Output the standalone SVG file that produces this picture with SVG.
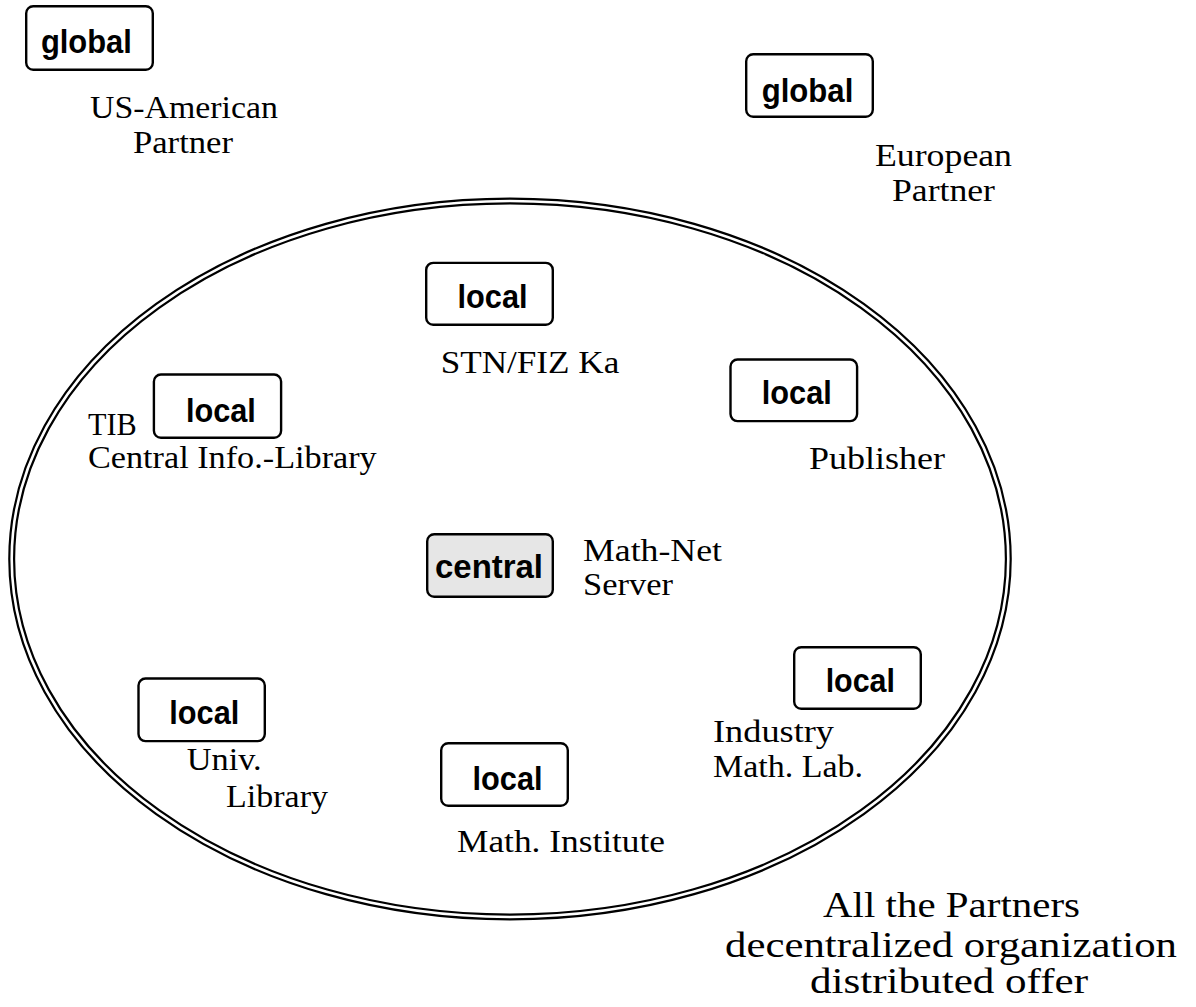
<svg xmlns="http://www.w3.org/2000/svg" width="1196" height="1007" viewBox="0 0 1196 1007">
  <style>
    .box { fill: #ffffff; stroke: #000000; stroke-width: 2.4; }
    .box.hub { fill: #e6e6e6; }
    .tag { font-family: "Liberation Sans", Arial, Helvetica, sans-serif; font-weight: bold; font-size: 33px; text-anchor: middle; fill: #000; }
    .lbl { font-family: "Liberation Serif", "Times New Roman", serif; font-size: 31px; fill: #000; }
    .big { font-size: 35px; }
    .ring { fill: none; stroke: #000000; stroke-width: 7; }
    .ring-gap { fill: none; stroke: #ffffff; stroke-width: 2.6; }
  </style>

  <rect x="0" y="0" width="1196" height="1007" fill="#ffffff"/>

  <!-- double-lined boundary of the national network -->
  <g id="boundary">
    <ellipse class="ring" cx="510" cy="559" rx="498.3" ry="358"/>
    <ellipse class="ring-gap" cx="510" cy="559" rx="498.3" ry="358"/>
  </g>

  <g id="connectors"></g>

  <g id="us-partner">
    <rect class="box" x="26.2" y="6.2" width="126.6" height="63.6" rx="7"/>
    <text class="tag" x="86.4" y="53.3" textLength="91" lengthAdjust="spacingAndGlyphs">global</text>
    <text class="lbl" x="90" y="118" textLength="188" lengthAdjust="spacingAndGlyphs">US-American</text>
    <text class="lbl" x="133" y="153" textLength="100" lengthAdjust="spacingAndGlyphs">Partner</text>
  </g>

  <g id="european-partner">
    <rect class="box" x="746.2" y="54.2" width="126.6" height="62.6" rx="7"/>
    <text class="tag" x="807.5" y="101.7" textLength="91.6" lengthAdjust="spacingAndGlyphs">global</text>
    <text class="lbl" x="875" y="166" textLength="137" lengthAdjust="spacingAndGlyphs">European</text>
    <text class="lbl" x="892" y="201" textLength="103" lengthAdjust="spacingAndGlyphs">Partner</text>
  </g>

  <g id="stn-fiz">
    <rect class="box" x="426.2" y="262.9" width="126.6" height="61.9" rx="7"/>
    <text class="tag" x="492.5" y="308.3" textLength="70" lengthAdjust="spacingAndGlyphs">local</text>
    <text class="lbl" x="440.7" y="373.3" textLength="178.6" lengthAdjust="spacingAndGlyphs">STN/FIZ Ka</text>
  </g>

  <g id="publisher">
    <rect class="box" x="730.5" y="359.5" width="126.6" height="61.6" rx="7"/>
    <text class="tag" x="796.8" y="404" textLength="70" lengthAdjust="spacingAndGlyphs">local</text>
    <text class="lbl" x="809" y="469" textLength="136" lengthAdjust="spacingAndGlyphs">Publisher</text>
  </g>

  <g id="tib">
    <rect class="box" x="153.9" y="374.5" width="127.2" height="63.3" rx="7"/>
    <text class="tag" x="220.9" y="421.7" textLength="70" lengthAdjust="spacingAndGlyphs">local</text>
    <text class="lbl" x="88" y="435" textLength="48.7" lengthAdjust="spacingAndGlyphs">TIB</text>
    <text class="lbl" x="88" y="468" textLength="288.7" lengthAdjust="spacingAndGlyphs">Central Info.-Library</text>
  </g>

  <g id="math-net-server">
    <rect class="box hub" x="427.2" y="534.2" width="125.6" height="62.6" rx="7"/>
    <text class="tag" x="489" y="578" textLength="108" lengthAdjust="spacingAndGlyphs">central</text>
    <text class="lbl" x="583" y="561" textLength="139" lengthAdjust="spacingAndGlyphs">Math-Net</text>
    <text class="lbl" x="583" y="595" textLength="90" lengthAdjust="spacingAndGlyphs">Server</text>
  </g>

  <g id="industry-lab">
    <rect class="box" x="794.2" y="647.2" width="126.6" height="61.6" rx="7"/>
    <text class="tag" x="860.3" y="691.7" textLength="69.3" lengthAdjust="spacingAndGlyphs">local</text>
    <text class="lbl" x="713" y="741.7" textLength="121" lengthAdjust="spacingAndGlyphs">Industry</text>
    <text class="lbl" x="713" y="776.7" textLength="150" lengthAdjust="spacingAndGlyphs">Math. Lab.</text>
  </g>

  <g id="univ-library">
    <rect class="box" x="138.5" y="678.5" width="126.3" height="62.6" rx="7"/>
    <text class="tag" x="204.3" y="724" textLength="70" lengthAdjust="spacingAndGlyphs">local</text>
    <text class="lbl" x="186.7" y="770" textLength="75" lengthAdjust="spacingAndGlyphs">Univ.</text>
    <text class="lbl" x="226" y="806.7" textLength="102" lengthAdjust="spacingAndGlyphs">Library</text>
  </g>

  <g id="math-institute">
    <rect class="box" x="441.2" y="743.2" width="126.6" height="62.6" rx="7"/>
    <text class="tag" x="507.5" y="790" textLength="70" lengthAdjust="spacingAndGlyphs">local</text>
    <text class="lbl" x="457" y="852" textLength="208" lengthAdjust="spacingAndGlyphs">Math. Institute</text>
  </g>

  <g id="summary">
    <text class="lbl big" x="823" y="916.7" textLength="257" lengthAdjust="spacingAndGlyphs">All the Partners</text>
    <text class="lbl big" x="725" y="956.7" textLength="452" lengthAdjust="spacingAndGlyphs">decentralized organization</text>
    <text class="lbl big" x="810" y="993.3" textLength="278" lengthAdjust="spacingAndGlyphs">distributed offer</text>
  </g>
</svg>
